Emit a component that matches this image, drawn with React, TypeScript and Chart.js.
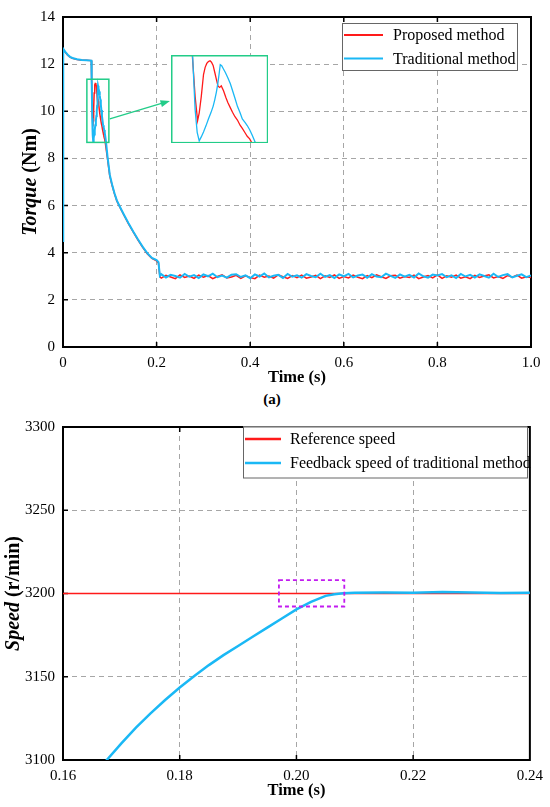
import { useEffect, useRef } from "react";
import { Chart, registerables } from "chart.js";

Chart.register(...registerables);

const SERIF = "'Liberation Serif', 'Times New Roman', serif";
const RED = "#ff1a1a";
const BLUE = "#1ab8f5";
const GREEN = "#22cc88";
const MAGENTA = "#c21bf0";
const GRID = "#a6a6a6";

// (a) torque, start-up transient
const proposedTime = [
  0, 0.0005, 0.005, 0.01, 0.015, 0.02, 0.03, 0.04, 0.05, 0.0605, 0.0612, 0.0625, 0.0637, 0.0645,
  0.0655, 0.0666, 0.0674, 0.0682, 0.069, 0.0698, 0.0705, 0.0713, 0.0721, 0.0729, 0.0737, 0.0745,
  0.0753, 0.0764, 0.0775, 0.0785, 0.0797, 0.0808, 0.082, 0.0832, 0.0845, 0.0856, 0.087, 0.088,
  0.0892, 0.0904, 0.095, 0.1, 0.105, 0.11, 0.115, 0.121, 0.13, 0.14, 0.15, 0.16, 0.17, 0.18, 0.19,
  0.2, 0.204, 0.207,
];
const proposedTorque = [
  4.5, 12.62, 12.5, 12.38, 12.3, 12.25, 12.2, 12.17, 12.16, 12.15, 11.3, 10.1, 9.36, 9.6,
  10.1, 10.78, 11.0, 11.12, 11.18, 11.2, 11.16, 11.06, 10.85, 10.63, 10.42, 10.38,
  10.43, 10.28, 10.08, 9.92, 9.76, 9.62, 9.48, 9.38, 9.22, 9.12, 8.98, 8.88,
  8.8, 8.66, 8.0, 7.25, 6.85, 6.5, 6.2, 5.95, 5.6, 5.22, 4.88, 4.55, 4.24, 3.96, 3.76,
  3.66, 3.56, 2.98,
];
const traditionalTime = [
  0, 0.0005, 0.005, 0.01, 0.015, 0.02, 0.03, 0.04, 0.05, 0.0605, 0.0613, 0.0625, 0.0635, 0.0645,
  0.0655, 0.0666, 0.0678, 0.069, 0.0702, 0.0713, 0.0721, 0.0729, 0.0736, 0.0742, 0.0748, 0.0755,
  0.0761, 0.0773, 0.0785, 0.0797, 0.0808, 0.082, 0.0832, 0.0845, 0.0856, 0.087, 0.088, 0.0892,
  0.0904, 0.092, 0.095, 0.1, 0.105, 0.11, 0.115, 0.121, 0.13, 0.14, 0.15, 0.16, 0.17, 0.18, 0.19,
  0.2, 0.204, 0.207,
];
const traditionalTorque = [
  4.5, 12.65, 12.52, 12.4, 12.31, 12.26, 12.21, 12.18, 12.17, 12.15, 11.3, 9.7, 9.0, 8.74,
  8.86, 9.01, 9.2, 9.41, 9.6, 9.8, 10.0, 10.24, 10.5, 10.78, 11.08, 11.05,
  10.98, 10.84, 10.68, 10.5, 10.29, 10.05, 9.8, 9.6, 9.41, 9.3, 9.21, 9.08,
  8.92, 8.68, 8.1, 7.3, 6.88, 6.52, 6.22, 5.97, 5.62, 5.25, 4.9, 4.57, 4.26, 3.98, 3.78,
  3.69, 3.6, 3.02,
];

// (a) torque, steady state every 10 ms
const steadyTime = [
  0.21, 0.22, 0.23, 0.24, 0.25, 0.26, 0.27, 0.28, 0.29, 0.3,
  0.31, 0.32, 0.33, 0.34, 0.35, 0.36, 0.37, 0.38, 0.39, 0.4,
  0.41, 0.42, 0.43, 0.44, 0.45, 0.46, 0.47, 0.48, 0.49, 0.5,
  0.51, 0.52, 0.53, 0.54, 0.55, 0.56, 0.57, 0.58, 0.59, 0.6,
  0.61, 0.62, 0.63, 0.64, 0.65, 0.66, 0.67, 0.68, 0.69, 0.7,
  0.71, 0.72, 0.73, 0.74, 0.75, 0.76, 0.77, 0.78, 0.79, 0.8,
  0.81, 0.82, 0.83, 0.84, 0.85, 0.86, 0.87, 0.88, 0.89, 0.9,
  0.91, 0.92, 0.93, 0.94, 0.95, 0.96, 0.97, 0.98, 0.99, 1.0,
];
const proposedSteady = [
  2.92, 3.04, 2.97, 2.9, 3.06, 2.95, 3.01, 2.91, 3.05, 2.96,
  3.03, 2.9, 2.99, 3.06, 2.93, 2.97, 3.04, 2.91, 3.02, 2.95,
  2.9, 3.05, 2.96, 3.01, 2.92, 3.06, 2.98, 2.91, 3.03, 2.94,
  3.05, 2.92, 2.97, 3.04, 2.9, 3.02, 2.95, 3.06, 2.91, 2.99,
  2.93, 3.05, 2.96, 2.9, 3.03, 2.94, 3.06, 2.98, 2.91, 3.02,
  3.04, 2.92, 2.99, 2.95, 3.05, 2.9, 2.97, 3.03, 2.93, 3.06,
  2.91, 3.02, 2.96, 3.05, 2.92, 2.98, 2.9, 3.04, 2.95, 3.01,
  3.06, 2.93, 2.99, 2.91, 3.03, 2.96, 3.05, 2.92, 2.98, 2.95,
];
const traditionalSteady = [
  3.09, 2.95, 3.06, 3.01, 2.94, 3.1, 2.98, 3.05, 2.93, 3.08,
  3.0, 3.11, 2.96, 3.03, 2.94, 3.07, 3.09, 2.97, 3.04, 2.92,
  3.08, 2.99, 3.12, 2.95, 3.02, 3.06, 2.93, 3.1, 2.98, 3.04,
  2.94, 3.09, 3.01, 2.96, 3.11, 2.97, 3.05, 2.93, 3.08, 3.0,
  3.1, 2.95, 3.03, 3.07, 2.94, 3.09, 2.99, 2.96, 3.11, 3.02,
  2.93, 3.08, 2.98, 3.06, 2.95, 3.12, 3.0, 2.94, 3.07, 3.03,
  3.09, 2.96, 3.04, 2.93, 3.1, 2.99, 3.06, 2.95, 3.08, 3.01,
  2.94, 3.11, 2.97, 3.05, 3.09, 2.95, 3.02, 3.08, 2.96, 3.04,
];

// zoomed window, its enlarged copy and the arrow between them (data units)
const zoomWindow = { x0: 0.051, x1: 0.098, y0: 8.68, y1: 11.36 };
const insetWindow = { x0: 0.23, x1: 0.438, y0: 8.64, y1: 12.39 };
const arrowFrom = { x: 0.1, y: 9.68 };
const arrowTo = { x: 0.2285, y: 10.44 };

// speed
const referenceTime = [0.16, 0.24];
const referenceSpeed = [3200, 3200];
const feedbackTime = [
  0.165, 0.1675, 0.17, 0.1725, 0.175, 0.1775, 0.18, 0.1825, 0.185, 0.1875, 0.19, 0.1925, 0.195,
  0.1975, 0.2, 0.2025, 0.205, 0.2065, 0.208, 0.21, 0.215, 0.22, 0.225, 0.23, 0.235, 0.24,
];
const feedbackSpeed = [
  3091, 3100, 3110, 3119.5, 3128, 3136, 3143.5, 3150.5, 3157, 3163, 3168.5, 3174, 3179.5,
  3185, 3190.5, 3195, 3198.6, 3199.6, 3200.2, 3200.4, 3200.6, 3200.5, 3200.9, 3200.6, 3200.3, 3200.4,
];
const speedMarker = { x0: 0.197, x1: 0.2082, y0: 3192.2, y1: 3208 };

const toPoints = (xs: number[], ys: number[]) => xs.map((x, i) => ({ x, y: ys[i] }));

const proposedPoints = [...toPoints(proposedTime, proposedTorque), ...toPoints(steadyTime, proposedSteady)];
const traditionalPoints = [
  ...toPoints(traditionalTime, traditionalTorque),
  ...toPoints(steadyTime, traditionalSteady),
];

// frame + inward tick marks
const frameTicks = {
  id: "frameTicks",
  beforeDatasetsDraw(chart: any) {
    const { ctx, chartArea: a, scales } = chart;
    ctx.save();
    ctx.strokeStyle = "#000";
    ctx.lineWidth = 2;
    ctx.strokeRect(a.left, a.top, a.right - a.left, a.bottom - a.top);
    ctx.lineWidth = 1.5;
    ctx.beginPath();
    scales.x.ticks.forEach((t: any) => {
      const px = scales.x.getPixelForValue(t.value);
      if (px <= a.left + 1 || px >= a.right - 1) return;
      ctx.moveTo(px, a.bottom);
      ctx.lineTo(px, a.bottom - 5);
      ctx.moveTo(px, a.top);
      ctx.lineTo(px, a.top + 5);
    });
    scales.y.ticks.forEach((t: any) => {
      const py = scales.y.getPixelForValue(t.value);
      if (py <= a.top + 1 || py >= a.bottom - 1) return;
      ctx.moveTo(a.left, py);
      ctx.lineTo(a.left + 5, py);
    });
    ctx.stroke();
    ctx.restore();
  },
};

// axis titles with mixed bold italic / bold parts
const axisTitles = (yItalic: string, yRest: string, yCenterX: number) => ({
  id: "axisTitles",
  afterDraw(chart: any) {
    const { ctx, chartArea: a } = chart;
    ctx.save();
    ctx.fillStyle = "#000";
    ctx.textBaseline = "middle";
    ctx.textAlign = "center";
    ctx.font = `bold 16.5px ${SERIF}`;
    ctx.fillText("Time (s)", (a.left + a.right) / 2, a.bottom + 31);

    const fItalic = `italic bold 20px ${SERIF}`;
    const fBold = `bold 20px ${SERIF}`;
    ctx.font = fItalic;
    const w1 = ctx.measureText(yItalic).width;
    ctx.font = fBold;
    const w2 = ctx.measureText(yRest).width;
    ctx.translate(yCenterX, (a.top + a.bottom) / 2);
    ctx.rotate(-Math.PI / 2);
    ctx.textAlign = "left";
    const start = -(w1 + w2) / 2;
    ctx.font = fItalic;
    ctx.fillText(yItalic, start, 0);
    ctx.font = fBold;
    ctx.fillText(yRest, start + w1, 0);
    ctx.restore();
  },
});

// legend in a grey box inside the plot
const boxLegend = (box: {
  left: number;
  top: number;
  width: number;
  height: number;
  rows: number[];
  lineFrom: number;
  lineTo: number;
  textX: number;
  lineWidth: number;
}) => ({
  id: "boxLegend",
  afterDraw(chart: any) {
    const { ctx } = chart;
    ctx.save();
    ctx.fillStyle = "#fff";
    ctx.fillRect(box.left, box.top, box.width, box.height);
    ctx.strokeStyle = "#666";
    ctx.lineWidth = 1;
    ctx.strokeRect(box.left + 0.5, box.top + 0.5, box.width, box.height);
    ctx.font = `16px ${SERIF}`;
    ctx.textBaseline = "middle";
    ctx.textAlign = "left";
    chart.data.datasets.forEach((ds: any, i: number) => {
      const y = box.rows[i];
      ctx.strokeStyle = ds.borderColor;
      ctx.lineWidth = box.lineWidth;
      ctx.beginPath();
      ctx.moveTo(box.lineFrom, y);
      ctx.lineTo(box.lineTo, y);
      ctx.stroke();
      ctx.fillStyle = "#000";
      ctx.fillText(ds.label, box.textX, y + 1);
    });
    ctx.restore();
  },
});

const torqueMarks = {
  id: "torqueMarks",
  afterDatasetsDraw(chart: any) {
    const { ctx, scales } = chart;
    const X = (v: number) => scales.x.getPixelForValue(v);
    const Y = (v: number) => scales.y.getPixelForValue(v);
    ctx.save();
    ctx.strokeStyle = GREEN;
    ctx.fillStyle = GREEN;
    ctx.lineWidth = 1.5;
    ctx.strokeRect(
      X(zoomWindow.x0),
      Y(zoomWindow.y1),
      X(zoomWindow.x1) - X(zoomWindow.x0),
      Y(zoomWindow.y0) - Y(zoomWindow.y1)
    );
    const x1 = X(arrowFrom.x);
    const y1 = Y(arrowFrom.y);
    const x2 = X(arrowTo.x);
    const y2 = Y(arrowTo.y);
    const ang = Math.atan2(y2 - y1, x2 - x1);
    const head = 10;
    ctx.lineWidth = 1.3;
    ctx.beginPath();
    ctx.moveTo(x1, y1);
    ctx.lineTo(x2 - head * 0.8 * Math.cos(ang), y2 - head * 0.8 * Math.sin(ang));
    ctx.stroke();
    ctx.beginPath();
    ctx.moveTo(x2, y2);
    ctx.lineTo(x2 - head * Math.cos(ang - 0.35), y2 - head * Math.sin(ang - 0.35));
    ctx.lineTo(x2 - head * Math.cos(ang + 0.35), y2 - head * Math.sin(ang + 0.35));
    ctx.closePath();
    ctx.fill();
    ctx.restore();
  },
};

const speedMarks = {
  id: "speedMarks",
  afterDatasetsDraw(chart: any) {
    const { ctx, scales } = chart;
    const X = (v: number) => scales.x.getPixelForValue(v);
    const Y = (v: number) => scales.y.getPixelForValue(v);
    ctx.save();
    ctx.strokeStyle = MAGENTA;
    ctx.lineWidth = 1.8;
    ctx.setLineDash([4, 3]);
    ctx.strokeRect(
      X(speedMarker.x0),
      Y(speedMarker.y1),
      X(speedMarker.x1) - X(speedMarker.x0),
      Y(speedMarker.y0) - Y(speedMarker.y1)
    );
    ctx.restore();
  },
};

const insetFrame = {
  id: "insetFrame",
  beforeDraw(chart: any) {
    const { ctx, width, height } = chart;
    ctx.save();
    ctx.fillStyle = "#fff";
    ctx.fillRect(0, 0, width, height);
    ctx.restore();
  },
  afterDraw(chart: any) {
    const { ctx, width, height } = chart;
    ctx.save();
    ctx.strokeStyle = GREEN;
    ctx.lineWidth = 1.5;
    ctx.strokeRect(0.75, 0.75, width - 1.5, height - 1.5);
    ctx.restore();
  },
};

const tickFont = { family: SERIF, size: 15 };

function axes(
  x: { min: number; max: number; step: number; digits: number },
  y: { min: number; max: number; step: number },
  xHeight: number
) {
  return {
    x: {
      type: "linear" as const,
      min: x.min,
      max: x.max,
      afterFit: (s: any) => {
        s.height = xHeight;
      },
      ticks: {
        stepSize: x.step,
        padding: 7,
        color: "#000",
        font: tickFont,
        maxRotation: 0,
        callback: (v: any) => (Number(v) === 0 ? "0" : Number(v).toFixed(x.digits)),
      },
      grid: { color: GRID, lineWidth: 1, drawTicks: false },
      border: { display: false, dash: [5, 4] },
    },
    y: {
      type: "linear" as const,
      min: y.min,
      max: y.max,
      afterFit: (s: any) => {
        s.width = 63;
      },
      ticks: {
        stepSize: y.step,
        padding: 8,
        color: "#000",
        font: tickFont,
        callback: (v: any) => String(v),
      },
      grid: { color: GRID, lineWidth: 1, drawTicks: false },
      border: { display: false, dash: [5, 4] },
    },
  };
}

export default function App() {
  const torqueRef = useRef<HTMLCanvasElement>(null);
  const insetRef = useRef<HTMLCanvasElement>(null);
  const insetWrapRef = useRef<HTMLDivElement>(null);
  const speedRef = useRef<HTMLCanvasElement>(null);

  useEffect(() => {
    document.body.style.margin = "0";
    if (!torqueRef.current || !speedRef.current || !insetRef.current || !insetWrapRef.current) return;

    const torque = new Chart(torqueRef.current, {
      type: "line",
      data: {
        datasets: [
          {
            label: "Proposed method",
            data: proposedPoints,
            borderColor: RED,
            borderWidth: 1.5,
            pointRadius: 0,
            order: 2,
          },
          {
            label: "Traditional method",
            data: traditionalPoints,
            borderColor: BLUE,
            borderWidth: 2,
            pointRadius: 0,
            order: 1,
          },
        ],
      },
      options: {
        animation: false,
        responsive: true,
        maintainAspectRatio: false,
        layout: { padding: { top: 9, right: 19, left: 0, bottom: 0 } },
        plugins: { legend: { display: false }, tooltip: { enabled: false } },
        scales: axes({ min: 0, max: 1, step: 0.2, digits: 1 }, { min: 0, max: 14, step: 2 }, 43),
      },
      plugins: [
        frameTicks,
        torqueMarks,
        axisTitles("Torque", " (Nm)", 31),
        boxLegend({
          left: 342,
          top: 23,
          width: 175,
          height: 47,
          rows: [35, 58.5],
          lineFrom: 344,
          lineTo: 383,
          textX: 393,
          lineWidth: 2,
        }),
      ],
    });

    // enlarged copy of the zoom window, placed over the torque plot
    const xs: any = torque.scales.x;
    const ys: any = torque.scales.y;
    const wrap = insetWrapRef.current;
    const left = xs.getPixelForValue(insetWindow.x0);
    const top = ys.getPixelForValue(insetWindow.y1);
    wrap.style.left = `${left}px`;
    wrap.style.top = `${top}px`;
    wrap.style.width = `${xs.getPixelForValue(insetWindow.x1) - left}px`;
    wrap.style.height = `${ys.getPixelForValue(insetWindow.y0) - top}px`;

    const inset = new Chart(insetRef.current, {
      type: "line",
      data: {
        datasets: [
          { data: proposedPoints, borderColor: RED, borderWidth: 1.3, pointRadius: 0, order: 2 },
          { data: traditionalPoints, borderColor: BLUE, borderWidth: 1.3, pointRadius: 0, order: 1 },
        ],
      },
      options: {
        animation: false,
        responsive: true,
        maintainAspectRatio: false,
        layout: { padding: 0 },
        plugins: { legend: { display: false }, tooltip: { enabled: false } },
        scales: {
          x: { type: "linear", min: zoomWindow.x0, max: zoomWindow.x1, display: false },
          y: { type: "linear", min: zoomWindow.y0, max: zoomWindow.y1, display: false },
        },
      },
      plugins: [insetFrame],
    });

    const speed = new Chart(speedRef.current, {
      type: "line",
      data: {
        datasets: [
          {
            label: "Reference speed",
            data: toPoints(referenceTime, referenceSpeed),
            borderColor: RED,
            borderWidth: 1.5,
            pointRadius: 0,
            order: 2,
          },
          {
            label: "Feedback speed of traditional method",
            data: toPoints(feedbackTime, feedbackSpeed),
            borderColor: BLUE,
            borderWidth: 2.5,
            pointRadius: 0,
            order: 1,
          },
        ],
      },
      options: {
        animation: false,
        responsive: true,
        maintainAspectRatio: false,
        layout: { padding: { top: 12, right: 19, left: 0, bottom: 0 } },
        plugins: { legend: { display: false }, tooltip: { enabled: false } },
        scales: axes(
          { min: 0.16, max: 0.24, step: 0.02, digits: 2 },
          { min: 3100, max: 3300, step: 50 },
          47
        ),
      },
      plugins: [
        frameTicks,
        speedMarks,
        axisTitles("Speed", " (r/min)", 14),
        boxLegend({
          left: 243,
          top: 16.5,
          width: 284,
          height: 51,
          rows: [29, 53],
          lineFrom: 245,
          lineTo: 281,
          textX: 290,
          lineWidth: 2.5,
        }),
      ],
    });

    return () => {
      torque.destroy();
      inset.destroy();
      speed.destroy();
    };
  }, []);

  return (
    <div style={{ position: "relative", width: 550, height: 807, background: "#fff" }}>
      <div style={{ position: "absolute", left: 0, top: 0, width: 550, height: 390 }}>
        <canvas ref={torqueRef} />
      </div>
      <div ref={insetWrapRef} style={{ position: "absolute" }}>
        <canvas ref={insetRef} />
      </div>
      <div
        style={{
          position: "absolute",
          left: 247,
          top: 390,
          width: 50,
          textAlign: "center",
          font: `bold 15px ${SERIF}`,
          lineHeight: "18px",
        }}
      >
        (a)
      </div>
      <div style={{ position: "absolute", left: 0, top: 410, width: 550, height: 397 }}>
        <canvas ref={speedRef} />
      </div>
    </div>
  );
}
